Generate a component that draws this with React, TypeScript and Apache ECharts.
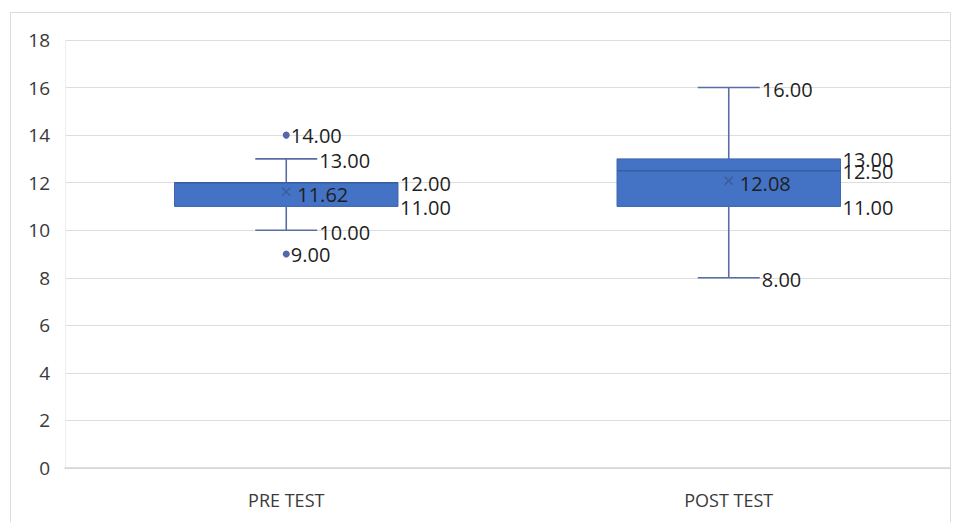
import React, { useEffect, useRef } from "react";
import * as echarts from "echarts";

const categories = ["PRE TEST", "POST TEST"];
const minValues = [10, 8];
const q1Values = [11, 11];
const medianValues = [12, 12.5];
const q3Values = [12, 13];
const maxValues = [13, 16];
const meanValues = [11.62, 12.08];
const outlierValues: number[][] = [[14, 9], []];
const yTicks = [0, 2, 4, 6, 8, 10, 12, 14, 16, 18];

const FONT = "'Open Sans', 'Noto Sans', sans-serif";
const LABEL_COLOR = "#1F1F1F";
const BOX_COLOR = "#4472C4";
const WHISKER_COLOR = "#5A6DA6";

export default function App() {
  const ref = useRef<HTMLDivElement>(null);
  useEffect(() => {
    document.body.style.margin = "0";
    const chart = echarts.init(ref.current!, null, { renderer: "svg" });
    const boxData = categories.map((_, i) => [
      i,
      minValues[i],
      q1Values[i],
      medianValues[i],
      q3Values[i],
      maxValues[i],
      meanValues[i],
    ]);
    const outlierData: number[][] = [];
    outlierValues.forEach((arr, i) => arr.forEach((v) => outlierData.push([i, v])));

    const lbl = (x: number, y: number, v: number) => ({
      type: "text",
      x,
      y,
      z2: 20,
      style: {
        text: v.toFixed(2),
        fill: LABEL_COLOR,
        fontSize: 20,
        fontFamily: FONT,
        align: "left",
        verticalAlign: "middle",
      },
    });

    const renderItem = (params: any, api: any) => {
      const idx = api.value(0);
      const band = api.size([1, 0])[0];
      const pMin = api.coord([idx, api.value(1)]);
      const pQ1 = api.coord([idx, api.value(2)]);
      const pMed = api.coord([idx, api.value(3)]);
      const pQ3 = api.coord([idx, api.value(4)]);
      const pMax = api.coord([idx, api.value(5)]);
      const pMean = api.coord([idx, api.value(6)]);
      const cx = pMin[0];
      const bw = band * 0.505;
      const cw = band * 0.14;
      const ls = { stroke: WHISKER_COLOR, lineWidth: 1.6 };
      const children: any[] = [
        { type: "line", shape: { x1: cx, y1: pMin[1], x2: cx, y2: pQ1[1] }, style: ls },
        { type: "line", shape: { x1: cx, y1: pQ3[1], x2: cx, y2: pMax[1] }, style: ls },
        { type: "line", shape: { x1: cx - cw / 2, y1: pMin[1], x2: cx + cw / 2, y2: pMin[1] }, style: ls },
        { type: "line", shape: { x1: cx - cw / 2, y1: pMax[1], x2: cx + cw / 2, y2: pMax[1] }, style: ls },
        {
          type: "rect",
          shape: { x: cx - bw / 2, y: pQ3[1], width: bw, height: pQ1[1] - pQ3[1] },
          style: { fill: BOX_COLOR, stroke: "#3E66AE", lineWidth: 1 },
        },
        {
          type: "line",
          shape: { x1: cx - bw / 2, y1: pMed[1], x2: cx + bw / 2, y2: pMed[1] },
          style: { stroke: "#3A5E9F", lineWidth: 1.5 },
        },
        {
          type: "line",
          shape: { x1: cx - 4, y1: pMean[1] - 4, x2: cx + 4, y2: pMean[1] + 4 },
          style: { stroke: "#3A5C99", lineWidth: 1.2 },
        },
        {
          type: "line",
          shape: { x1: cx - 4, y1: pMean[1] + 4, x2: cx + 4, y2: pMean[1] - 4 },
          style: { stroke: "#3A5C99", lineWidth: 1.2 },
        },
        lbl(cx + cw / 2 + 2, pMax[1] + 2, api.value(5)),
        lbl(cx + cw / 2 + 2, pMin[1] + 2, api.value(1)),
        lbl(cx + bw / 2 + 2, pQ3[1] + 1, api.value(4)),
        lbl(cx + bw / 2 + 2, pQ1[1] + 1, api.value(2)),
        lbl(cx + 11, pMean[1] + 3, api.value(6)),
      ];
      if (api.value(3) !== api.value(4) && api.value(3) !== api.value(2)) {
        children.push(lbl(cx + bw / 2 + 2, pMed[1] + 1, api.value(3)));
      }
      return { type: "group", children };
    };

    chart.setOption({
      animation: false,
      backgroundColor: "#ffffff",
      grid: { left: 65, right: 3, top: 40, bottom: 54, containLabel: false },
      graphic: [
        {
          type: "rect",
          shape: { x: 10.5, y: 12.5, width: 940, height: 530 },
          style: { fill: "none", stroke: "#DCDCDC", lineWidth: 1 },
          silent: true,
          z: -1,
        },
      ],
      xAxis: {
        type: "category",
        data: categories,
        axisTick: { show: false },
        axisLine: { lineStyle: { color: "#D4D4D4", width: 1.5 } },
        axisLabel: { color: "#3A3A3A", fontSize: 18, fontFamily: FONT, margin: 23 },
        splitLine: { show: false },
      },
      yAxis: {
        type: "value",
        min: yTicks[0],
        max: yTicks[yTicks.length - 1],
        interval: 2,
        axisLine: { show: true, lineStyle: { color: "#EEEEEE", width: 1 } },
        axisTick: { show: false },
        axisLabel: { color: "#3A3A3A", fontSize: 19, fontFamily: FONT, margin: 15 },
        splitLine: { lineStyle: { color: "#DDDDDD", width: 1.2 } },
      },
      series: [
        {
          type: "custom",
          renderItem,
          data: boxData,
          encode: { x: 0, y: [1, 2, 3, 4, 5] },
          z: 3,
        },
        {
          type: "scatter",
          data: outlierData,
          symbol: "circle",
          symbolSize: 7,
          itemStyle: { color: "#5566AA", opacity: 1 },
          z: 4,
          label: {
            show: true,
            position: "right",
            distance: 1,
            formatter: (p: any) => p.value[1].toFixed(2),
            color: LABEL_COLOR,
            fontSize: 20,
            fontFamily: FONT,
          },
        },
      ],
    });
    return () => chart.dispose();
  }, []);
  return <div ref={ref} style={{ width: 953, height: 522 }} />;
}
